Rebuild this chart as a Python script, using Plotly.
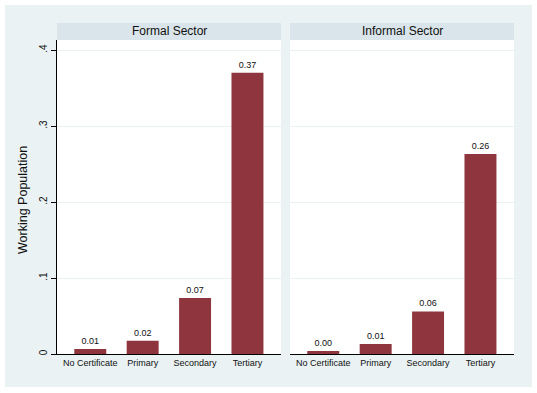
import plotly.graph_objects as go

categories = ["No Certificate", "Primary", "Secondary", "Tertiary"]
formal_values = [0.0066, 0.0175, 0.0737, 0.370]
informal_values = [0.004, 0.0132, 0.056, 0.263]
panel_titles = ["Formal Sector", "Informal Sector"]
y_tickvals = [0, 0.1, 0.2, 0.3, 0.4]
y_ticktext = ["0", ".1", ".2", ".3", ".4"]

W, H = 537, 393
ml, mr, mt, mb = 57, 23, 40, 39
pw = W - ml - mr
ph = H - mt - mb

def px_x(p):
    return (p - ml) / pw

def px_y(p):
    return (H - mb - p) / ph

BAR = "#8E353E"
OUTER = "#EAF2F3"
STRIP = "#D9E5EA"
FONT = "Liberation Sans, Arial, sans-serif"

fig = go.Figure()
for i, vals in enumerate([formal_values, informal_values]):
    fig.add_trace(go.Bar(
        x=categories, y=vals,
        xaxis="x" if i == 0 else "x2", yaxis="y" if i == 0 else "y2",
        marker=dict(color=BAR, line=dict(width=0)),
        width=0.61,
        texttemplate="%{y:.2f}", textposition="outside",
        textfont=dict(size=9, color="#111111", family=FONT),
        cliponaxis=False, showlegend=False, hoverinfo="skip",
    ))

d1 = [0, px_x(281)]
d2 = [px_x(290), 1]
xr = [-0.635, 3.64]
yr = [0, (H - mb - mt) / 760.0]

xcommon = dict(type="category", range=xr, showgrid=False, showline=True,
               linecolor="black", linewidth=1, ticks="", ticklen=0,
               tickfont=dict(size=9, color="#111111", family=FONT),
               fixedrange=True)
ycommon = dict(range=yr, tickvals=y_tickvals, showgrid=True,
               gridcolor=OUTER, gridwidth=1, zeroline=False,
               fixedrange=True)

shapes = [
    dict(type="rect", xref="paper", yref="paper", layer="below",
         x0=px_x(5), x1=px_x(532), y0=px_y(387), y1=px_y(5),
         fillcolor=OUTER, line=dict(width=0)),
]
annotations = []
for xa, ya in [("x", "y"), ("x2", "y2")]:
    shapes.append(dict(type="rect", xref=xa + " domain", yref=ya + " domain",
                       layer="below", x0=0, x1=1, y0=0, y1=1,
                       fillcolor="white", line=dict(width=0)))
    shapes.append(dict(type="rect", xref=xa + " domain", yref="paper",
                       layer="below", x0=0, x1=1, y0=px_y(40), y1=px_y(23),
                       fillcolor=STRIP, line=dict(width=0)))
for xa, t in zip(["x", "x2"], panel_titles):
    annotations.append(dict(text=t, xref=xa + " domain", yref="paper",
                            x=0.5, y=px_y(31.5), showarrow=False,
                            xanchor="center", yanchor="middle",
                            font=dict(size=12, color="#111111", family=FONT)))
annotations.append(dict(text="Working Population", xref="paper", yref="paper",
                        x=px_x(23), y=px_y(200), textangle=-90, showarrow=False,
                        xanchor="center", yanchor="middle",
                        font=dict(size=12.5, color="#111111", family=FONT)))

fig.update_layout(
    width=W, height=H,
    margin=dict(l=ml, r=mr, t=mt, b=mb, pad=0),
    paper_bgcolor="white", plot_bgcolor="white",
    bargap=0.39,
    xaxis=dict(domain=d1, anchor="y", **xcommon),
    xaxis2=dict(domain=d2, anchor="y2", **xcommon),
    yaxis=dict(domain=[0, 1], anchor="x", ticktext=y_ticktext,
               showline=True, linecolor="black", linewidth=1,
               ticks="outside", ticklen=5, tickcolor="black", tickangle=-90,
               tickfont=dict(size=10, color="#111111", family=FONT),
               **ycommon),
    yaxis2=dict(domain=[0, 1], anchor="x2", showticklabels=False,
                showline=False, ticks="", **ycommon),
    shapes=shapes, annotations=annotations,
    font=dict(family=FONT),
    hovermode=False,
)

fig.write_html("out.html", config={"displayModeBar": False},
               post_script="document.body.style.margin='0px';document.body.style.overflow='hidden';")
